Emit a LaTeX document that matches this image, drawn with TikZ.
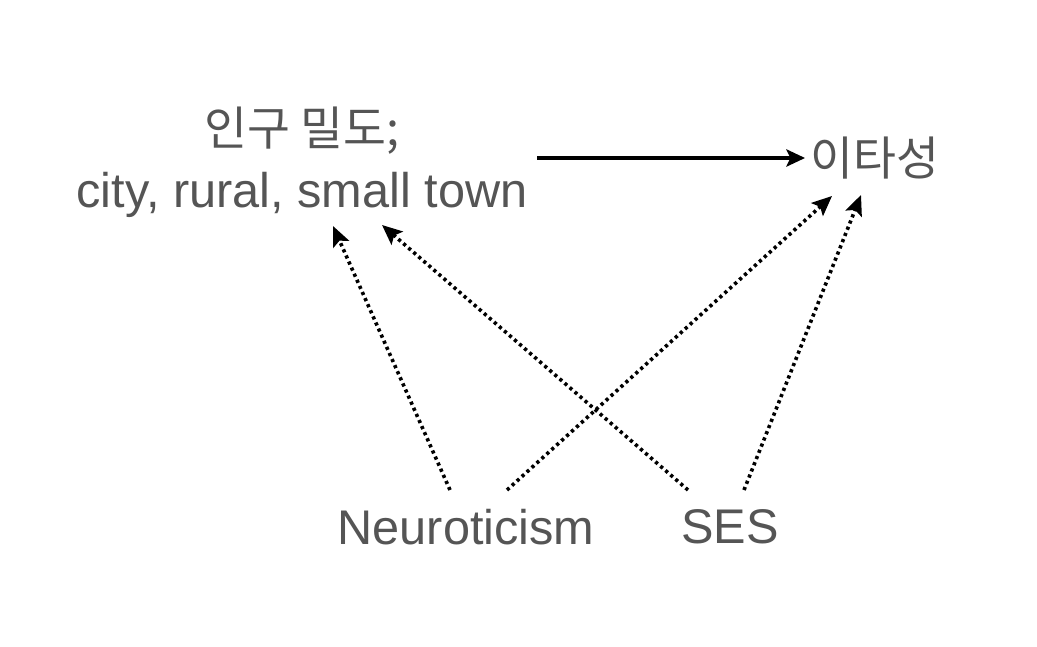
\documentclass[tikz,border=0pt]{standalone}
\usepackage{fontspec}
\setmainfont{Liberation Sans}
\newfontfamily\kr{Noto Sans CJK KR}
\usetikzlibrary{arrows.meta}
\definecolor{txt}{HTML}{555555}
\newcommand{\krtext}[1]{{\fontsize{35}{46}\selectfont\kr #1}}
\begin{document}
\begin{tikzpicture}[x=0.75pt,y=-0.75pt,
  lbl/.style={text=txt,font=\fontsize{36.5}{46.5}\selectfont,inner sep=0pt,align=center},
  solidarr/.style={line width=2.3pt,-{Triangle[length=14pt,width=13pt,inset=3pt]}},
  dotarr/.style={line width=2.7pt,dash pattern=on 2.4pt off 2.6pt,-{Triangle[length=15pt,width=13pt,inset=3pt]}}]
\useasboundingbox (0,0) rectangle (1037,646);
\node[lbl] (pop) at (302,162) {\krtext{인구 밀도;}\\city, rural, small town};
\node[lbl,anchor=west] (alt) at (810,158) {\krtext{이타성}};
\node[lbl] (neu) at (466,527) {Neuroticism};
\node[lbl] (ses) at (730,527) {SES};
\coordinate (p1) at (537,158);
\coordinate (p2) at (805,158);
\coordinate (pa) at (333,226);
\coordinate (pb) at (382,225);
\coordinate (aa) at (832,196);
\coordinate (ab) at (861,195);
\coordinate (n1) at (450,490);
\coordinate (n2) at (507,490);
\coordinate (s1) at (688,490);
\coordinate (s2) at (744,490);
\draw[solidarr] (p1) -- (p2);
\draw[dotarr] (n1) -- (pa);
\draw[dotarr] (s1) -- (pb);
\draw[dotarr] (n2) -- (aa);
\draw[dotarr] (s2) -- (ab);
\end{tikzpicture}
\end{document}
